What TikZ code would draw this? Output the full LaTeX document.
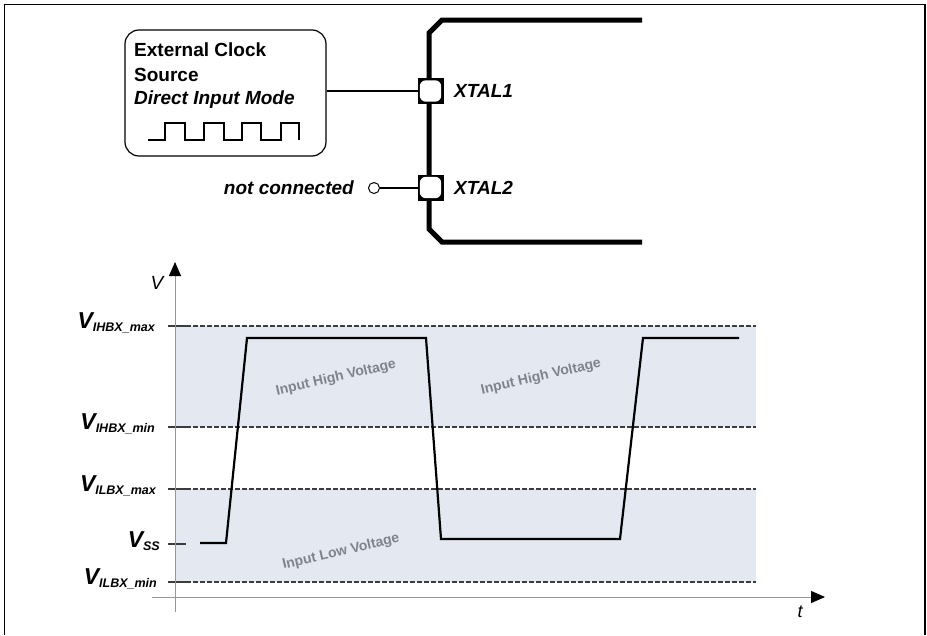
\documentclass[tikz,border=0pt]{standalone}
\usepackage{fontspec}
\setmainfont{Liberation Sans}
\usetikzlibrary{calc,arrows.meta}

\definecolor{bandfill}{RGB}{227,232,241}
\definecolor{bandtext}{RGB}{128,131,140}
\definecolor{levelgray}{RGB}{60,60,60}
\definecolor{axisgray}{RGB}{150,150,150}

\newcommand{\vlevel}[1]{{\fontsize{23}{23}\selectfont V}\raisebox{-3pt}{\fontsize{12.5}{12.5}\selectfont #1}}

\tikzset{
  pad/.style={draw, fill=black, minimum size=25pt, inner sep=0pt, line width=1pt,
    path picture={\fill[white, rounded corners=6pt]
      ($(path picture bounding box.south west)+(1.8pt,1.8pt)$) rectangle
      ($(path picture bounding box.north east)+(-1.8pt,-1.8pt)$);}},
  level/.style={levelgray, line width=1.1pt, dash pattern=on 4.5pt off 2.5pt},
  levtick/.style={levelgray, line width=1.6pt},
  bandlabel/.style={text=bandtext, font=\fontsize{14}{14}\selectfont\bfseries, rotate=13},
  vlabel/.style={anchor=base east, inner sep=0pt, font=\bfseries\itshape},
  axis/.style={axisgray, line width=1pt, -{Triangle[length=14pt,width=12pt,color=black]}},
}

\begin{document}
\begin{tikzpicture}[x=1pt, y=-1pt]
\useasboundingbox (0,0) rectangle (927,635);

\draw[line width=1.5pt] (4.5,635) -- (4.5,4.5) -- (925,4.5) -- (925,635);

\draw[line width=5pt, line join=miter] (642,20) -- (442,20) -- (429,33) -- (429,229) -- (442,242) -- (642,242);

\node[draw, rounded corners=14pt, minimum width=201pt, minimum height=126pt, line width=1.2pt] (src) at (225.5,93) {};
\node[anchor=base west, inner sep=0pt, font=\fontsize{19}{19}\selectfont\bfseries] (src1) at (134,56) {External Clock};
\node[anchor=base west, inner sep=0pt, font=\fontsize{19}{19}\selectfont\bfseries] (src2) at (134,81) {Source};
\node[anchor=base west, inner sep=0pt, font=\fontsize{19}{19}\selectfont\bfseries\itshape] (src3) at (134,104.5) {Direct Input Mode};
\draw[line width=1.2pt] (148,140) -- (165,140) -- (165,123) -- (185,123) -- (185,140) -- (204,140) -- (204,123) -- (224,123) -- (224,140) -- (242,140) -- (242,123) -- (261,123) -- (261,140) -- (281,140) -- (281,123) -- (299,123) -- (299,140);

\node[pad] (x1) at (430.5,91) {};
\node[pad] (x2) at (430.5,187.5) {};
\node[anchor=west, inner sep=0pt, font=\fontsize{19}{19}\selectfont\bfseries\itshape] (x1lab) at (454,91) {XTAL1};
\node[anchor=west, inner sep=0pt, font=\fontsize{19}{19}\selectfont\bfseries\itshape] (x2lab) at (454,188) {XTAL2};

\node[draw, circle, minimum size=11pt, inner sep=0pt, line width=1pt] (nc) at (374,188) {};
\node[anchor=east, inner sep=0pt, font=\fontsize{19}{19}\selectfont\bfseries\itshape] (nclab) at (354,188) {not connected};

\draw[line width=1.2pt] (src.east |- x1.west) -- (x1.west);
\draw[line width=1.2pt] (nc.east) -- (x2.west |- nc.east);

\fill[bandfill] (175,326) rectangle (756,427);
\fill[bandfill] (175,489) rectangle (756,582);

\node[bandlabel] (hi1) at (336,378) {Input High Voltage};
\node[bandlabel] (hi2) at (541,377) {Input High Voltage};
\node[bandlabel] (lo) at (341,552) {Input Low Voltage};

\draw[levtick] (168,326) -- (186,326);
\draw[levtick] (168,427) -- (186,427);
\draw[levtick] (168,489) -- (186,489);
\draw[levtick] (168,544) -- (186,544);
\draw[levtick] (168,582) -- (186,582);
\draw[level] (186,326) -- (756,326);
\draw[level] (186,427) -- (756,427);
\draw[level] (186,489) -- (756,489);
\draw[level] (186,582) -- (756,582);

\draw[axis] (175,612) -- (175,262);
\draw[axis] (152,597) -- (825,597);
\node[font=\fontsize{19}{19}\selectfont\itshape] (vaxis) at (157,283) {V};
\node[font=\fontsize{18}{18}\selectfont\itshape] (taxis) at (800,612) {t};

\draw[line width=2.2pt, line join=miter] (200,543) -- (226,543) -- (247,338) -- (426,338) -- (441,539) -- (620,539) -- (643,338) -- (739,338);

\node[vlabel] (vihmax) at (155,328) {\vlevel{IHBX\_max}};
\node[vlabel] (vihmin) at (155,429) {\vlevel{IHBX\_min}};
\node[vlabel] (vilmax) at (156,491) {\vlevel{ILBX\_max}};
\node[vlabel] (vss) at (160,547) {\vlevel{SS}};
\node[vlabel] (vilmin) at (157,584) {\vlevel{ILBX\_min}};
\end{tikzpicture}
\end{document}
